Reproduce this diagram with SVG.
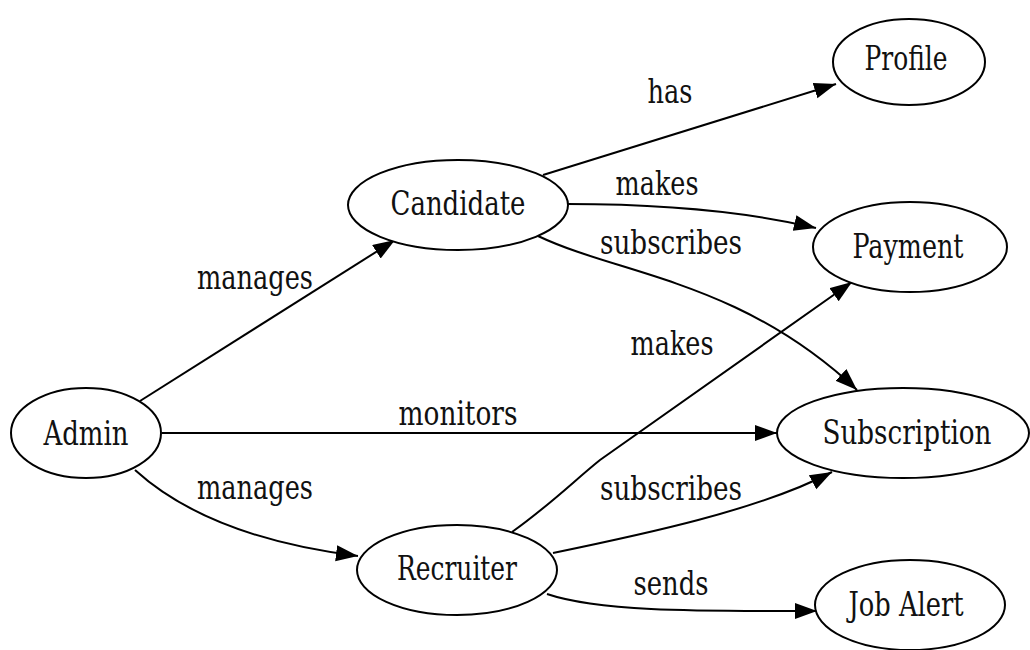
<svg xmlns="http://www.w3.org/2000/svg" width="1030" height="650" viewBox="0 0 1030 650">
<style>
.n ellipse{fill:#fff;stroke:#000;stroke-width:2}
text{font-family:"DejaVu Serif Condensed","DejaVu Serif",serif;font-stretch:condensed;font-size:33px;fill:#111;text-anchor:middle}
.e path{fill:none;stroke:#000;stroke-width:2;marker-end:url(#ah)}
</style>
<defs>
<marker id="ah" markerUnits="userSpaceOnUse" markerWidth="24" markerHeight="18" refX="22" refY="8" orient="auto">
<path d="M0,0 L22,8 L0,16 Z" fill="#000"/>
</marker>
</defs>
<rect width="1030" height="650" fill="#fff"/>
<g id="connectors" class="e">
<path d="M140,401 L395,240"/>
<path d="M162,433 L777,433"/>
<path d="M135,470 C190,520 270,545 358,556"/>
<path d="M543,175 L836,84"/>
<path d="M567,204 C650,204 740,210 816,228"/>
<path d="M538,236 C620,275 740,280 857,390"/>
<path d="M512,532 C550,505 575,480 600,460 L852,282"/>
<path d="M553,553 C640,535 760,510 832,472"/>
<path d="M547,594 C600,612 700,611 817,611"/>
</g>
<g id="labels">
<text x="255" y="289" textLength="116" lengthAdjust="spacingAndGlyphs">manages</text>
<text x="458" y="425" textLength="119" lengthAdjust="spacingAndGlyphs">monitors</text>
<text x="255" y="499" textLength="116" lengthAdjust="spacingAndGlyphs">manages</text>
<text x="670" y="103" textLength="45" lengthAdjust="spacingAndGlyphs">has</text>
<text x="657" y="195" textLength="83" lengthAdjust="spacingAndGlyphs">makes</text>
<text x="671" y="254" textLength="142" lengthAdjust="spacingAndGlyphs">subscribes</text>
<text x="672" y="355" textLength="83" lengthAdjust="spacingAndGlyphs">makes</text>
<text x="671" y="500" textLength="142" lengthAdjust="spacingAndGlyphs">subscribes</text>
<text x="671" y="595" textLength="75" lengthAdjust="spacingAndGlyphs">sends</text>
</g>
<g id="admin" class="n"><ellipse cx="86" cy="433" rx="75" ry="45"/><text x="86" y="445" textLength="85" lengthAdjust="spacingAndGlyphs">Admin</text></g>
<g id="candidate" class="n"><ellipse cx="458" cy="205" rx="110" ry="45"/><text x="458" y="215" textLength="135" lengthAdjust="spacingAndGlyphs">Candidate</text></g>
<g id="recruiter" class="n"><ellipse cx="457" cy="570" rx="100" ry="45"/><text x="457" y="580" textLength="120" lengthAdjust="spacingAndGlyphs">Recruiter</text></g>
<g id="profile" class="n"><ellipse cx="909" cy="62" rx="76" ry="43"/><text x="906" y="70" textLength="83" lengthAdjust="spacingAndGlyphs">Profile</text></g>
<g id="payment" class="n"><ellipse cx="910" cy="247" rx="97" ry="45"/><text x="908" y="258" textLength="111" lengthAdjust="spacingAndGlyphs">Payment</text></g>
<g id="subscription" class="n"><ellipse cx="903" cy="433" rx="126" ry="45"/><text x="907" y="444" textLength="169" lengthAdjust="spacingAndGlyphs">Subscription</text></g>
<g id="jobalert" class="n"><ellipse cx="910" cy="605" rx="95" ry="45"/><text x="906" y="616" textLength="115" lengthAdjust="spacingAndGlyphs">Job Alert</text></g>
</svg>
